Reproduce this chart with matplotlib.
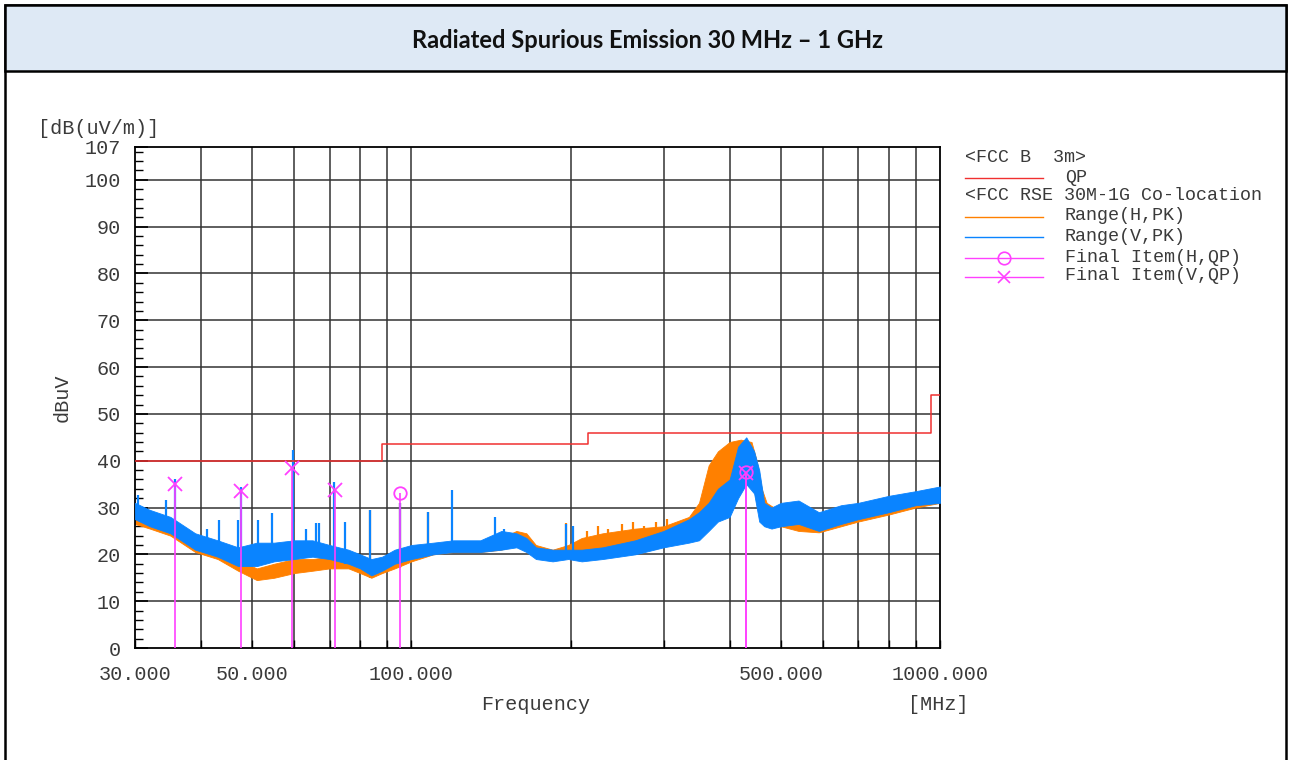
import numpy as np
import matplotlib.pyplot as plt
from matplotlib.patches import Rectangle
from matplotlib.lines import Line2D
from matplotlib.ticker import FixedLocator, NullFormatter

# --- data ---
limit_freq = [30, 88, 216, 960, 1000]
limit_val = [40, 43.5, 46, 54, 54]

h_freq = [30, 32, 35, 39, 43, 47, 51, 55, 60, 65, 70, 76, 80, 84, 88, 93, 100, 110, 120,
          135, 148, 158, 165, 172, 185, 198, 210, 230, 265, 300, 335, 350, 365, 380, 400, 420,
          440, 450, 460, 470, 485, 500, 540, 590, 650, 700, 800, 900, 1000]
h_low = [26.5, 25.5, 24, 20.5, 19, 16.5, 14.5, 15, 16, 16.5, 17, 17, 16, 15, 16, 17, 18.5, 20, 20.5,
         20.5, 21, 22, 22.5, 20, 19, 19.5, 20, 20.5, 21, 22, 23.5, 25, 29, 31, 33, 35,
         36, 31, 27, 26.5, 26, 26, 25, 24.7, 26, 27, 28.5, 30, 31]
h_high = [28.8, 27.5, 26, 22.5, 20.5, 18.8, 17, 18, 19, 19, 19.5, 19, 18, 17, 18, 19.5, 21, 22, 22.5,
          22.5, 23.5, 25, 24.5, 22, 21, 22, 23.5, 24.5, 25.5, 26, 28, 31, 39, 42, 44, 44.5,
          44, 40, 34, 31, 30, 29.5, 28, 27, 28.5, 29.5, 31, 32.5, 34]

v_freq = [30, 32, 35, 39, 43, 47, 51, 55, 60, 65, 70, 76, 80, 84, 88, 93, 100, 110, 120,
          135, 148, 158, 165, 172, 185, 198, 210, 230, 265, 300, 335, 350, 365, 380, 400, 415,
          430, 445, 455, 465, 480, 500, 540, 590, 650, 700, 800, 900, 1000]
v_low = [27.5, 26, 24.5, 21, 19.5, 17.5, 17.5, 18.5, 19, 19.5, 19, 18, 17, 15.5, 16.5, 18, 19, 20, 20.5,
         20.5, 21, 21.5, 20.5, 19, 18.5, 19, 18.5, 19, 20, 21.5, 22.5, 23, 25, 27, 28, 32,
         35, 33, 27, 26, 25.5, 26, 26.5, 25, 26.5, 27.5, 29, 30.5, 31]
v_high = [31, 29.5, 28, 24.5, 23, 21.5, 22.5, 22.5, 23, 23, 22, 21, 20, 19, 19.5, 21, 22, 22.5, 23,
          23, 25, 24.5, 23.5, 21.5, 21, 21, 21, 21.5, 23, 25, 27.5, 29, 31, 34, 36, 43,
          45, 42, 38, 31, 30, 31, 31.5, 29, 30.5, 31, 32.5, 33.5, 34.5]

# spikes: frequency, bottom, top
v_spk_freq = [30.4, 34.3, 35.7, 41.1, 43.2, 47.0, 47.6, 51.3, 54.6, 59.6, 63.1, 66, 67,
              71.5, 74.9, 83.6, 95.2, 107.5, 119.2, 144, 150, 196, 202]
v_spk_low = [28, 26, 25, 21, 20, 18, 18, 18, 19, 20, 20, 20, 20,
             19, 18, 16, 18, 20, 21, 21, 21, 19, 19]
v_spk_high = [32.7, 31.6, 36, 25.5, 27.3, 27.3, 34.4, 27.3, 28.8, 42.3, 25.5, 26.7, 26.7,
              35.5, 26.9, 29.5, 31, 29.1, 33.7, 28, 25.5, 26.5, 26]
h_spk_freq = [59.6, 83.6, 95.2, 107.5, 196, 215, 225, 235, 250, 262, 275, 290, 305]
h_spk_low = [17, 15, 17, 20, 19, 20, 20, 20, 20, 21, 21, 21, 22]
h_spk_high = [27, 29.5, 31, 29.1, 26.7, 25, 26, 25.5, 26.5, 27, 26, 27, 27.5]

fin_h_freq = [95.2, 430]
fin_h_val = [33, 37.5]
fin_v_freq = [35.7, 47.6, 59.4, 71.8, 430]
fin_v_val = [35, 33.5, 38.5, 33.8, 37.3]

x_ticks = [30, 50, 100, 500, 1000]
x_ticklabels = ['30.000', '50.000', '100.000', '500.000', '1000.000']
y_ticks = [0, 10, 20, 30, 40, 50, 60, 70, 80, 90, 100, 107]

ORANGE = '#FF8000'
BLUE = '#0A84FF'
RED = '#F03030'
MAG = '#FF40FF'
MONO = 'Liberation Mono'
TXT = '#3a3a3a'
FS = 14.5
FS_LEG = 13.2

W, H = 1289, 760
fig = plt.figure(figsize=(W / 100, H / 100), dpi=100, facecolor='white')

def fx(px):
    return px / W

def fy(py):
    return 1 - py / H

# frame and title box
fig.patches.append(Rectangle((fx(5), fy(790)), fx(1281), fy(5) - fy(790), transform=fig.transFigure,
                             facecolor='none', edgecolor='black', linewidth=1.8, zorder=-2))
fig.patches.append(Rectangle((fx(5), fy(71)), fx(1281), fy(5) - fy(71), transform=fig.transFigure,
                             facecolor='#DEE9F5', edgecolor='black', linewidth=1.8, zorder=-1))
fig.text(fx(648), fy(40), 'Radiated Spurious Emission 30 MHz \u2013 1 GHz', ha='center', va='center',
         fontsize=17, fontweight='bold', family='Lato', color='#111111')

ax = fig.add_axes([fx(135), fy(648), fx(940) - fx(135), fy(147) - fy(648)])
ax.set_xscale('log')
ax.set_xlim(30, 1000)
ax.set_ylim(0, 107)

# grid
grid_x = [40, 50, 60, 70, 80, 90, 100, 200, 300, 400, 500, 600, 700, 800, 900]
for g in grid_x:
    ax.axvline(g, color='#333333', lw=1.1, zorder=1)
for g in range(10, 101, 10):
    ax.axhline(g, color='#333333', lw=1.1, zorder=1)

# traces
ax.fill_between(h_freq, h_low, h_high, color=ORANGE, lw=0.6, zorder=2)
ax.vlines(h_spk_freq, h_spk_low, h_spk_high, color=ORANGE, lw=1.6, zorder=2)
ax.fill_between(v_freq, v_low, v_high, color=BLUE, lw=0.6, zorder=3)
ax.vlines(v_spk_freq, v_spk_low, v_spk_high, color=BLUE, lw=1.6, zorder=3)

# limit
ax.step(limit_freq, limit_val, where='post', color=RED, lw=1.1, zorder=4)

# final items
ax.vlines(fin_h_freq, 0, fin_h_val, color=MAG, lw=1.2, zorder=5)
ax.vlines(fin_v_freq, 0, fin_v_val, color=MAG, lw=1.2, zorder=5)
ax.plot(fin_h_freq, fin_h_val, 'o', ms=9, mfc='none', mec=MAG, mew=1.3, zorder=6)
ax.plot(fin_v_freq, fin_v_val, 'x', ms=10, mec=MAG, mew=1.3, zorder=6)

# axes styling
for s in ax.spines.values():
    s.set_color('black')
    s.set_linewidth(1.3)
ax.xaxis.set_major_locator(FixedLocator(x_ticks))
ax.xaxis.set_minor_locator(FixedLocator(grid_x))
ax.set_xticklabels(x_ticklabels)
ax.xaxis.set_minor_formatter(NullFormatter())
ax.yaxis.set_major_locator(FixedLocator(y_ticks))
ax.yaxis.set_minor_locator(FixedLocator(list(range(2, 107, 2))))
ax.tick_params(which='both', direction='in', color='black')
ax.tick_params(axis='y', which='major', length=9, width=1.2)
ax.tick_params(axis='y', which='minor', length=6, width=1.0)
ax.tick_params(axis='x', which='both', length=6, width=1.0)
ax.tick_params(axis='y', which='major', pad=10)
ax.tick_params(axis='x', which='major', pad=12)
for lab in ax.get_xticklabels() + ax.get_yticklabels():
    lab.set_family(MONO)
    lab.set_fontsize(FS)
    lab.set_color(TXT)

fig.text(fx(38), fy(128), '[dB(uV/m)]', family=MONO, fontsize=FS, color=TXT, va='center', ha='left')
fig.text(fx(62), fy(398), 'dBuV', family=MONO, fontsize=FS, color=TXT, va='center', ha='center',
         rotation=90)
fig.text(fx(536), fy(705), 'Frequency', family=MONO, fontsize=FS, color=TXT, va='center', ha='center')
fig.text(fx(938), fy(705), '[MHz]', family=MONO, fontsize=FS, color=TXT, va='center', ha='center')

# legend
leg_x0, leg_x1, leg_tx = 965, 1043, 1065
fig.text(fx(leg_x0), fy(158), '<FCC B  3m>', family=MONO, fontsize=FS_LEG, color=TXT, va='center')
fig.text(fx(leg_x0), fy(196), '<FCC RSE 30M-1G Co-location', family=MONO, fontsize=FS_LEG, color=TXT,
         va='center')
leg_rows = [
    (178, RED, None, 'QP'),
    (217, ORANGE, None, 'Range(H,PK)'),
    (237, BLUE, None, 'Range(V,PK)'),
    (258, MAG, 'o', 'Final Item(H,QP)'),
    (277, MAG, 'x', 'Final Item(V,QP)'),
]
for py, col, mk, label in leg_rows:
    fig.add_artist(Line2D([fx(leg_x0), fx(leg_x1)], [fy(py), fy(py)], transform=fig.transFigure,
                          color=col, lw=1.0))
    if mk:
        fig.add_artist(Line2D([fx((leg_x0 + leg_x1) / 2)], [fy(py)], transform=fig.transFigure,
                              marker=mk, ms=9, mfc='none', mec=col, mew=1.2, ls='none'))
    fig.text(fx(leg_tx), fy(py - 1), label, family=MONO, fontsize=FS_LEG, color=TXT, va='center')

fig.savefig('out.png', dpi=100)
